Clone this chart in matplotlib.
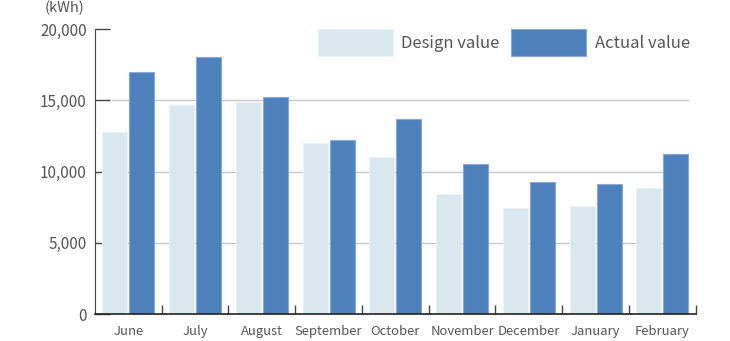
import numpy as np
import matplotlib
matplotlib.use("Agg")
from matplotlib import pyplot as plt

plt.rcParams['font.family'] = ['Noto Sans CJK JP', 'DejaVu Sans']

months = ["June", "July", "August", "September", "October",
          "November", "December", "January", "February"]
design = [12800, 14700, 14850, 12000, 11050, 8400, 7450, 7600, 8850]
actual = [17000, 18000, 15200, 12200, 13700, 10550, 9300, 9100, 11250]
y_ticks = [0, 5000, 10000, 15000, 20000]
y_tick_labels = ["0", "5,000", "10,000", "15,000", "20,000"]

c_design = "#d9e7ef"
c_actual = "#4f81bd"
c_text = "#555555"

fig = plt.figure(figsize=(7.3, 3.41), dpi=100)
ax = fig.add_axes([0.130, 0.079, 0.823, 0.836])

x = np.arange(len(months))
w = 0.375
ax.bar(x - w / 2 - 0.015, design, w, color=c_design, edgecolor="#eaf2f6", linewidth=0.8,
       label="Design value", zorder=2)
ax.bar(x + w / 2 + 0.015, actual, w, color=c_actual, edgecolor="#87a9d3", linewidth=0.8,
       label="Actual value", zorder=2)

ax.set_xlim(-0.5, len(months) - 0.5)
ax.set_ylim(0, 20000)

# grid lines stop short of the axis ends
for _v in y_ticks[1:-1]:
    ax.axhline(_v, xmin=0.028, xmax=0.987, color="#c8c8c8", linewidth=1.0, zorder=1)

ax.set_yticks(y_ticks)
ax.set_yticklabels(y_tick_labels)
ax.tick_params(axis="y", direction="in", length=11, width=1.0, color="#444444",
               labelsize=11, labelcolor=c_text, pad=6)

ax.set_xticks(x)
ax.set_xticklabels(months)
ax.tick_params(axis="x", which="major", length=0, labelsize=9.4, labelcolor=c_text, pad=8)
ax.set_xticks(np.arange(0.5, len(months) - 0.4, 1.0), minor=True)
ax.tick_params(axis="x", which="minor", direction="in", length=6.5, width=1.0, color="#444444")

for _s in ["top", "right"]:
    ax.spines[_s].set_visible(False)
ax.spines["left"].set_color("#444444")
ax.spines["bottom"].set_color("#222222")
ax.spines["bottom"].set_linewidth(1.2)

fig.text(64 / 730, 1 - 0.5 / 341, "(kWh)", ha="center", va="top", fontsize=10.5, color=c_text)

ax.legend(loc="upper right", bbox_to_anchor=(0.99, 1.0), ncol=2, frameon=False,
          fontsize=12, handlelength=4.5, handleheight=2.1, handletextpad=0.5,
          columnspacing=0.7, borderaxespad=0.0, borderpad=0.0, labelcolor=c_text)

fig.savefig("out.png", dpi=100)
